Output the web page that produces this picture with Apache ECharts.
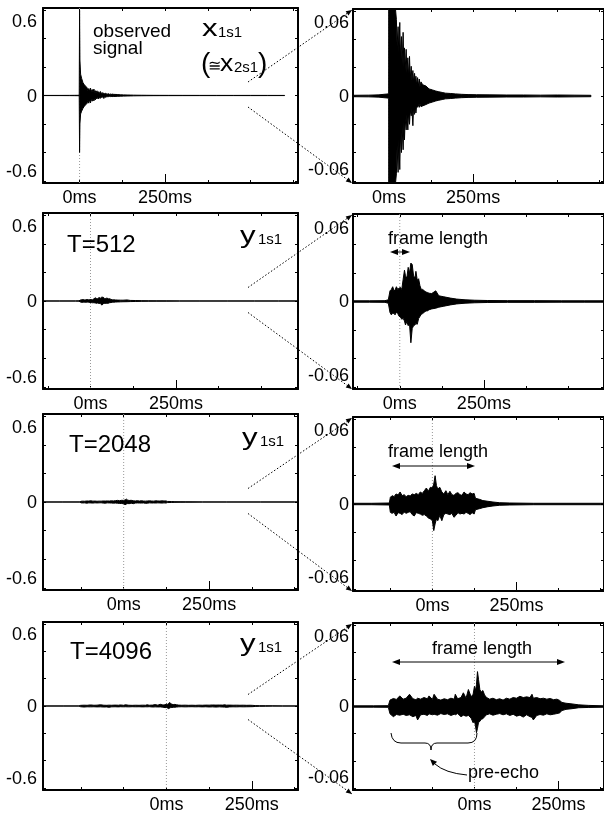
<!DOCTYPE html>
<html>
<head>
<meta charset="utf-8">
<script src="https://cdn.jsdelivr.net/npm/echarts@6/dist/echarts.min.js"></script>
<style>
  html, body { margin: 0; background: #fff; }
  #main { width: 604px; height: 814px; }
</style>
</head>
<body>
<div id="main"></div>
<script>
// envelope of each waveform: time (ms), upper and lower amplitude

// observed signal x1s1
var x1s1T  = [-107, -60, -30, -15, -5, -1, 0, 1, 3, 6, 10, 14, 18, 22, 24, 27, 29, 32, 34, 37, 39, 42, 44, 46, 48, 51, 53, 56, 58, 61, 63, 66, 68, 71, 73, 76, 78, 80, 82, 85, 87, 90, 92, 95, 100, 110, 119, 129, 139, 148, 158, 168, 182, 197, 215, 235, 260, 300, 350, 400, 450, 500, 550, 600];
var x1s1Hi = [0.0005, 0.0006, 0.0008, 0.0012, 0.0014, 0.002, 0.60, 0.25, 0.15, 0.12, 0.09, 0.075, 0.065, 0.054, 0.035, 0.049, 0.030, 0.052, 0.028, 0.042, 0.022, 0.045, 0.020, 0.034, 0.018, 0.033, 0.016, 0.027, 0.014, 0.028, 0.012, 0.021, 0.011, 0.018, 0.010, 0.016, 0.009, 0.014, 0.008, 0.013, 0.007, 0.012, 0.0065, 0.010, 0.008, 0.007, 0.005, 0.0043, 0.0035, 0.003, 0.0025, 0.002, 0.0018, 0.0015, 0.0012, 0.001, 0.0009, 0.0008, 0.0007, 0.0007, 0.0006, 0.0007, 0.0006, 0.0005];
var x1s1Lo = [-0.0005, -0.0006, -0.0008, -0.0012, -0.0014, -0.002, -0.40, -0.2, -0.13, -0.11, -0.09, -0.075, -0.065, -0.055, -0.035, -0.054, -0.030, -0.052, -0.027, -0.040, -0.022, -0.038, -0.018, -0.031, -0.016, -0.024, -0.013, -0.024, -0.012, -0.020, -0.010, -0.014, -0.009, -0.021, -0.008, -0.013, -0.007, -0.012, -0.007, -0.008, -0.006, -0.008, -0.0055, -0.0075, -0.007, -0.006, -0.005, -0.0043, -0.0035, -0.003, -0.0025, -0.002, -0.0018, -0.0015, -0.0012, -0.001, -0.0009, -0.0008, -0.0007, -0.0007, -0.0006, -0.0007, -0.0006, -0.0005];

// y1s1, T=512
var y512T  = [-139, -90, -44, -34, -29, -25, -21, -17, -14, -10, -6, -2, 2, 6, 10, 14, 17, 21, 25, 29, 33, 37, 41, 45, 48, 52, 56, 60, 64, 68, 73, 78, 82, 87, 95, 107, 116, 131, 150, 169, 194, 223, 260, 320, 400, 480, 550, 607];
var y512Hi = [0.0005, 0.0005, 0.0006, 0.0012, 0.0075, 0.0085, 0.0104, 0.0075, 0.0080, 0.0104, 0.0085, 0.0094, 0.0099, 0.0085, 0.0155, 0.0220, 0.0180, 0.0165, 0.0240, 0.0200, 0.0270, 0.0260, 0.0180, 0.0165, 0.0212, 0.0150, 0.0160, 0.0110, 0.0085, 0.0085, 0.0075, 0.0066, 0.0064, 0.0058, 0.0056, 0.0075, 0.0040, 0.0033, 0.0024, 0.0017, 0.0012, 0.0009, 0.0007, 0.0006, 0.0006, 0.0005, 0.0005, 0.0005];
var y512Lo = [-0.0005, -0.0005, -0.0006, -0.0012, -0.0078, -0.0094, -0.0080, -0.0085, -0.0094, -0.0075, -0.0085, -0.0104, -0.0110, -0.0125, -0.0118, -0.0137, -0.0165, -0.0140, -0.0170, -0.0160, -0.0290, -0.0190, -0.0170, -0.0165, -0.0155, -0.0160, -0.0120, -0.0105, -0.0090, -0.0085, -0.0075, -0.0066, -0.0066, -0.0058, -0.0052, -0.0047, -0.0040, -0.0033, -0.0024, -0.0017, -0.0012, -0.0009, -0.0007, -0.0006, -0.0006, -0.0005, -0.0005, -0.0005];

// y1s1, T=2048
var y2048T  = [-236, -180, -128, -125, -120, -114, -108, -102, -96, -90, -84, -78, -72, -66, -60, -54, -48, -42, -36, -30, -24, -18, -12, -6, 0, 4, 8, 12, 16, 22, 28, 34, 40, 46, 52, 58, 64, 70, 76, 82, 88, 94, 100, 106, 112, 118, 124, 128, 140, 150, 165, 180, 200, 230, 300, 400, 500, 600];
var y2048Hi = [0.0005, 0.0005, 0.0007, 0.0047, 0.0059, 0.0052, 0.0071, 0.0064, 0.0085, 0.0059, 0.0066, 0.0052, 0.0061, 0.0057, 0.0071, 0.0066, 0.0075, 0.0066, 0.0085, 0.0075, 0.0094, 0.0113, 0.0090, 0.0118, 0.0113, 0.0141, 0.0200, 0.0130, 0.0106, 0.0118, 0.0085, 0.0071, 0.0094, 0.0066, 0.0090, 0.0066, 0.0061, 0.0075, 0.0080, 0.0066, 0.0061, 0.0085, 0.0071, 0.0066, 0.0080, 0.0071, 0.0075, 0.0040, 0.0033, 0.0024, 0.0019, 0.0014, 0.0009, 0.0007, 0.0005, 0.0005, 0.0005, 0.0005];
var y2048Lo = [-0.0005, -0.0005, -0.0007, -0.0059, -0.0066, -0.0059, -0.0085, -0.0061, -0.0066, -0.0075, -0.0057, -0.0066, -0.0059, -0.0054, -0.0075, -0.0085, -0.0061, -0.0066, -0.0071, -0.0080, -0.0075, -0.0085, -0.0099, -0.0106, -0.0118, -0.0188, -0.0141, -0.0106, -0.0118, -0.0080, -0.0118, -0.0075, -0.0066, -0.0071, -0.0075, -0.0066, -0.0094, -0.0080, -0.0061, -0.0071, -0.0066, -0.0071, -0.0059, -0.0066, -0.0075, -0.0061, -0.0071, -0.0040, -0.0033, -0.0026, -0.0019, -0.0014, -0.0009, -0.0007, -0.0005, -0.0005, -0.0005, -0.0005];

// y1s1, T=4096
var y4096T  = [-361, -300, -256, -251, -241, -232, -222, -212, -203, -193, -183, -174, -169, -160, -150, -140, -135, -125, -120, -110, -100, -90, -80, -70, -60, -57, -50, -40, -33, -25, -18, -10, -4, 0, 3, 6, 9, 12, 16, 20, 25, 30, 36, 45, 55, 65, 75, 85, 95, 105, 115, 125, 135, 145, 155, 165, 171, 175, 185, 195, 205, 215, 225, 235, 245, 253, 260, 272, 290, 310, 340, 385];
var y4096Hi = [0.0005, 0.0005, 0.0006, 0.0047, 0.0059, 0.0052, 0.0078, 0.0054, 0.0061, 0.0090, 0.0057, 0.0050, 0.0061, 0.0054, 0.0066, 0.0057, 0.0078, 0.0052, 0.0090, 0.0054, 0.0047, 0.0057, 0.0050, 0.0061, 0.0054, 0.0090, 0.0057, 0.0066, 0.0101, 0.0061, 0.0125, 0.0071, 0.0090, 0.0148, 0.0118, 0.0160, 0.0257, 0.0200, 0.0125, 0.0106, 0.0118, 0.0085, 0.0066, 0.0054, 0.0061, 0.0050, 0.0057, 0.0047, 0.0061, 0.0054, 0.0066, 0.0061, 0.0075, 0.0066, 0.0071, 0.0066, 0.0090, 0.0061, 0.0066, 0.0057, 0.0061, 0.0054, 0.0059, 0.0050, 0.0054, 0.0045, 0.0030, 0.0024, 0.0019, 0.0012, 0.0008, 0.0005];
var y4096Lo = [-0.0005, -0.0005, -0.0006, -0.0054, -0.0075, -0.0059, -0.0064, -0.0057, -0.0066, -0.0061, -0.0075, -0.0066, -0.0099, -0.0061, -0.0057, -0.0066, -0.0054, -0.0061, -0.0057, -0.0064, -0.0052, -0.0059, -0.0054, -0.0066, -0.0057, -0.0061, -0.0052, -0.0075, -0.0064, -0.0071, -0.0066, -0.0085, -0.0120, -0.0106, -0.0141, -0.0193, -0.0160, -0.0118, -0.0110, -0.0094, -0.0090, -0.0075, -0.0061, -0.0054, -0.0064, -0.0057, -0.0052, -0.0061, -0.0054, -0.0066, -0.0057, -0.0071, -0.0064, -0.0078, -0.0061, -0.0075, -0.0080, -0.0099, -0.0066, -0.0059, -0.0064, -0.0054, -0.0061, -0.0057, -0.0052, -0.0047, -0.0030, -0.0021, -0.0016, -0.0009, -0.0007, -0.0005];

var onsetMs = [0];
var msLabels = [0, 250];

var rows = [
    {t: x1s1T, hi: x1s1Hi, lo: x1s1Lo, xMin: -107},
    {t: y512T, hi: y512Hi, lo: y512Lo, xMin: -139},
    {t: y2048T, hi: y2048Hi, lo: y2048Lo, xMin: -236},
    {t: y4096T, hi: y4096Hi, lo: y4096Lo, xMin: -361}
];

var SPAN = 746;
var FONT = '"Liberation Sans", Arial, Helvetica, sans-serif';
var leftBox = [{top: 8, h: 175}, {top: 213, h: 176}, {top: 414, h: 176}, {top: 622, h: 172}];
var rightBox = [{top: 9, h: 174}, {top: 214, h: 175}, {top: 417, h: 174}, {top: 623, h: 171}];

var frameLine = {color: '#000', width: 2};

//waveform drawn as one filled envelope
function drawWave(params, api) {
    if (params.dataIndexInside !== 0) return;
    var n = params.dataInsideLength;
    var pts = [];
    for (var i = 0; i < n; i++) pts.push(api.coord([api.value(0, i), api.value(1, i)]));
    for (var j = n - 1; j >= 0; j--) pts.push(api.coord([api.value(0, j), api.value(2, j)]));
    return {
        type: 'polygon',
        shape: {points: pts},
        style: {fill: '#000', stroke: '#000', lineWidth: 1}
    };
}

function drawOnset(params, api) {
    var cs = params.coordSys;
    var p = api.coord([api.value(0), 0]);
    return {
        type: 'line',
        shape: {x1: p[0], y1: cs.y, x2: p[0], y2: cs.y + cs.height},
        style: {stroke: '#999', lineWidth: 1, lineDash: [1, 2]}
    };
}

var grids = [], xAxes = [], yAxes = [], series = [];

rows.forEach(function (row, r) {
    [0, 1].forEach(function (c) {
        var box = c ? rightBox[r] : leftBox[r];
        var g = grids.length;
        grids.push({left: c ? 353 : 43, top: box.top, width: 255, height: box.h});

        var xMin = row.xMin, xMax = row.xMin + SPAN;
        var xt = [];
        for (var v = Math.ceil(xMin / 125) * 125; v <= xMax; v += 125) xt.push(v);

        var xi = xAxes.length;
        xAxes.push({
            type: 'value', gridIndex: g, min: xMin, max: xMax, position: 'bottom',
            axisLine: {onZero: false, lineStyle: frameLine},
            axisTick: {inside: true, length: 3, customValues: xt, lineStyle: {color: '#000', width: 1}},
            axisLabel: {customValues: msLabels, formatter: function (v) { return v + 'ms'; },
                color: '#000', fontSize: 18, fontFamily: FONT, margin: 6},
            splitLine: {show: false}
        });
        xAxes.push({
            type: 'value', gridIndex: g, min: xMin, max: xMax, position: 'bottom',
            axisLine: {show: false, onZero: false},
            axisTick: {inside: true, length: 9, customValues: [250], lineStyle: {color: '#000', width: 1}},
            axisLabel: {show: false}, splitLine: {show: false}
        });
        xAxes.push({
            type: 'value', gridIndex: g, min: xMin, max: xMax, position: 'top',
            axisLine: {onZero: false, lineStyle: frameLine},
            axisTick: {inside: true, length: 3, customValues: xt, lineStyle: {color: '#000', width: 1}},
            axisLabel: {show: false}, splitLine: {show: false}
        });

        var yMax = c ? 0.0615 : 0.615;
        var step = c ? 0.02 : 0.2;
        var lab = c ? 0.06 : 0.6;
        var labMin = c ? -0.0702 : -0.69;
        var labMax = c ? 0.0718 : 0.71;
        var yt = [-3, -2, -1, 0, 1, 2, 3].map(function (k) { return +(k * step).toFixed(3); });

        var yi = yAxes.length;
        yAxes.push({
            type: 'value', gridIndex: g, min: -yMax, max: yMax, position: 'left',
            axisLine: {onZero: false, lineStyle: frameLine},
            axisTick: {inside: true, length: 3, customValues: yt, lineStyle: {color: '#000', width: 1}},
            axisLabel: {show: false}, splitLine: {show: false}
        });
        yAxes.push({
            type: 'value', gridIndex: g, min: labMin, max: labMax, position: 'left',
            axisLine: {show: false, onZero: false}, axisTick: {show: false},
            axisLabel: {customValues: [-lab, 0, lab], formatter: function (v) { return String(v); },
                color: '#000', fontSize: 18, fontFamily: FONT, margin: c ? 4 : 6},
            splitLine: {show: false}
        });
        yAxes.push({
            type: 'value', gridIndex: g, min: -yMax, max: yMax, position: 'right',
            axisLine: {onZero: false, lineStyle: frameLine},
            axisTick: {inside: true, length: 3, customValues: yt, lineStyle: {color: '#000', width: 1}},
            axisLabel: {show: false}, splitLine: {show: false}
        });

        series.push({
            type: 'custom', xAxisIndex: xi, yAxisIndex: yi, z: 1, silent: true, clip: true,
            data: onsetMs.map(function (t) { return [t]; }),
            renderItem: drawOnset
        });
        series.push({
            type: 'custom', xAxisIndex: xi, yAxisIndex: yi, z: 3, silent: true, clip: true,
            data: row.t.map(function (t, i) { return [t, row.hi[i], row.lo[i]]; }),
            renderItem: drawWave
        });
    });
});

// annotations
function txt(s, x, baseline, size, sx) {
    return {type: 'text', x: x, y: baseline - 0.35 * size, scaleX: sx || 1, silent: true, z: 10,
        style: {text: s, font: size + 'px ' + FONT, fill: '#000', align: 'left', verticalAlign: 'middle'}};
}
function head(tip, from, len, half) {
    var dx = tip[0] - from[0], dy = tip[1] - from[1];
    var d = Math.sqrt(dx * dx + dy * dy), ux = dx / d, uy = dy / d;
    var bx = tip[0] - ux * len, by = tip[1] - uy * len;
    return {type: 'polygon', silent: true, z: 10,
        shape: {points: [tip, [bx - uy * half, by + ux * half], [bx + uy * half, by - ux * half]]},
        style: {fill: '#000'}};
}
function seg(a, b, dash) {
    return {type: 'line', silent: true, z: 10,
        shape: {x1: a[0], y1: a[1], x2: b[0], y2: b[1]},
        style: {stroke: '#000', lineWidth: 1, lineDash: dash || null}};
}
function curve(a, cp, b) {
    return {type: 'bezierCurve', silent: true, z: 10,
        shape: {x1: a[0], y1: a[1], cpx1: cp[0], cpy1: cp[1], x2: b[0], y2: b[1]},
        style: {stroke: '#000', fill: null, lineWidth: 1}};
}
function span(x1, x2, y) {
    return [
        seg([x1 + 4, y], [x2 - 4, y]),
        head([x1, y], [x2, y], 8, 3),
        head([x2, y], [x1, y], 8, 3)
    ];
}

var graphics = [];
leftBox.forEach(function (lb, r) {
    var cy = lb.top + lb.h / 2;
    var rb = rightBox[r];
    var a1 = [248, cy - 13.5], b1 = [352, rb.top + 1];
    var a2 = [248, cy + 11.5], b2 = [352, rb.top + rb.h];
    graphics.push(seg(a1, b1, [1.5, 2]), head(b1, a1, 6, 2.5), seg(a2, b2, [1.5, 2]), head(b2, a2, 6, 2.5));
});

graphics.push(
    txt('observed', 93, 38, 19),
    txt('signal', 93, 55, 19),
    txt('x', 202, 38, 24, 1.3), txt('1s1', 218, 38, 15),
    txt('(', 201, 74, 28), txt('\u2245', 208, 72, 16), txt('x', 220, 73, 24, 1.1), txt('2s1', 234, 73, 15), txt(')', 258, 74, 28),
    txt('T=512', 67, 254, 24), txt('y', 240, 245, 24, 1.3), txt('1s1', 258, 245, 15),
    txt('T=2048', 69, 454, 24), txt('y', 242, 447, 24, 1.3), txt('1s1', 260, 447, 15),
    txt('T=4096', 70, 661, 24), txt('y', 240, 653, 24, 1.3), txt('1s1', 258, 653, 15),
    txt('frame length', 388, 245, 18),
    txt('frame length', 388, 458, 18),
    txt('frame length', 432, 655, 18),
    txt('pre-echo', 468, 779, 18)
);
graphics = graphics.concat(span(390, 410, 252), span(392, 475, 466), span(392, 565, 662));
// pre-echo brace and pointer
graphics.push(
    curve([391, 733], [392, 743], [401, 743]),
    seg([401, 743], [425, 743]),
    curve([425, 743], [431, 743], [431, 750]),
    curve([431, 750], [431, 743], [437, 743]),
    seg([437, 743], [468, 743]),
    curve([468, 743], [477, 743], [477, 733]),
    curve([467, 775], [445, 773], [435, 764]),
    head([430, 759], [436, 765], 7, 3)
);

var chart = echarts.init(document.getElementById('main'));
chart.setOption({
    animation: false,
    backgroundColor: '#fff',
    grid: grids,
    xAxis: xAxes,
    yAxis: yAxes,
    series: series,
    graphic: graphics
});
</script>
</body>
</html>
